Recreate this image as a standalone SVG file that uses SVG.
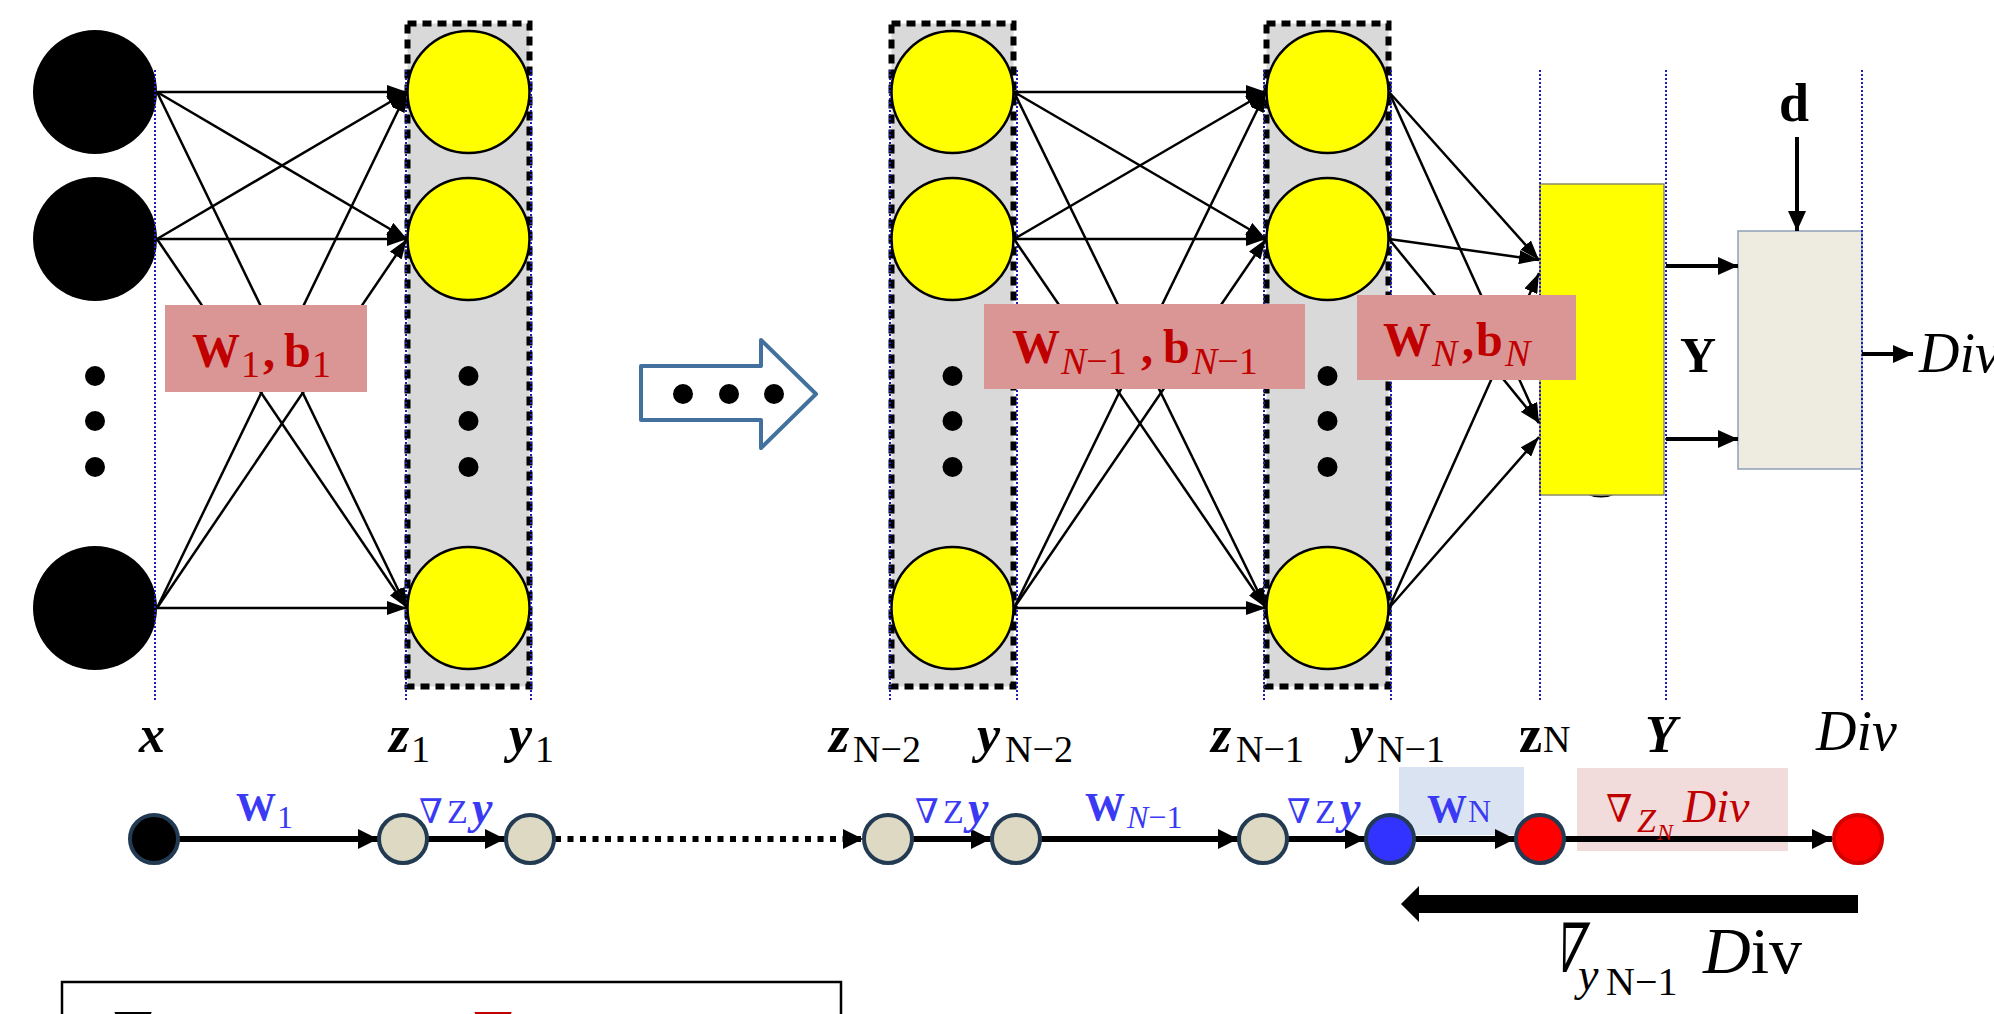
<svg xmlns="http://www.w3.org/2000/svg" width="1994" height="1014" viewBox="0 0 1994 1014">
<defs>
<style>
.gbox{fill:#D9D9D9;stroke:#000;stroke-width:6;stroke-dasharray:9 6}
.yc{fill:#FFFF00;stroke:#000;stroke-width:2.5}
.bc{fill:#000}
.dot{fill:#000}
.guide{stroke:#1C1CB8;stroke-width:2;stroke-dasharray:2 2;fill:none}
.ln{stroke:#000;stroke-width:2.5;fill:none;marker-end:url(#ah)}
.ln2{stroke:#000;stroke-width:4;fill:none;marker-end:url(#ahm)}
.ch{stroke:#000;stroke-width:6;fill:none;marker-end:url(#ahc)}
.lbox{fill:#D99694}
.lt{font-family:"Liberation Serif",serif;font-weight:bold;font-size:48px;fill:#C00000}
.ls{font-weight:normal;font-size:38px}
.it{font-style:italic}
.bl{font-family:"Liberation Serif","DejaVu Serif",serif;font-weight:bold;font-style:italic;font-size:52px;fill:#000}
.bs{font-weight:normal;font-style:normal;font-size:38px}
.cl{font-family:"Liberation Serif","DejaVu Serif",serif;font-size:40px;fill:#3A3AF4}
.cn{stroke:#223A52;stroke-width:4}
</style>
<marker id="ah" markerUnits="userSpaceOnUse" markerWidth="20" markerHeight="14" refX="20" refY="7" orient="auto"><path d="M0,0 L20,7 L0,14 z" fill="#000"/></marker>
<marker id="ahm" markerUnits="userSpaceOnUse" markerWidth="20" markerHeight="18" refX="20" refY="9" orient="auto"><path d="M0,0 L20,9 L0,18 z" fill="#000"/></marker>
<marker id="ahc" markerUnits="userSpaceOnUse" markerWidth="20" markerHeight="20" refX="20" refY="10" orient="auto"><path d="M0,0 L20,10 L0,20 z" fill="#000"/></marker>
</defs>
<rect width="1994" height="1014" fill="#fff"/>

<g id="layer-input">
<circle class="bc" cx="95" cy="92" r="62"/>
<circle class="bc" cx="95" cy="239" r="62"/>
<circle class="bc" cx="95" cy="608" r="62"/>
<circle class="dot" cx="95" cy="376" r="10"/>
<circle class="dot" cx="95" cy="421" r="10"/>
<circle class="dot" cx="95" cy="467" r="10"/>
</g>

<g id="layer-1">
<rect class="gbox" x="407.5" y="23.5" width="122" height="663"/>
<circle class="yc" cx="468.5" cy="92" r="61"/>
<circle class="yc" cx="468.5" cy="239" r="61"/>
<circle class="yc" cx="468.5" cy="608" r="61"/>
<circle class="dot" cx="468.5" cy="376" r="10"/>
<circle class="dot" cx="468.5" cy="421" r="10"/>
<circle class="dot" cx="468.5" cy="467" r="10"/>
</g>

<g id="ellipsis-arrow">
<polygon points="641,366 761,366 761,340 816,394 761,448 761,420 641,420" fill="#fff" stroke="#41719C" stroke-width="4" stroke-linejoin="round"/>
<circle cx="683" cy="394" r="10"/>
<circle cx="729" cy="394" r="10"/>
<circle cx="774" cy="394" r="10"/>
</g>

<g id="layer-n2">
<rect class="gbox" x="891.5" y="23.5" width="122" height="663"/>
<circle class="yc" cx="952.5" cy="92" r="61"/>
<circle class="yc" cx="952.5" cy="239" r="61"/>
<circle class="yc" cx="952.5" cy="608" r="61"/>
<circle class="dot" cx="952.5" cy="376" r="10"/>
<circle class="dot" cx="952.5" cy="421" r="10"/>
<circle class="dot" cx="952.5" cy="467" r="10"/>
</g>

<g id="layer-n1">
<rect class="gbox" x="1266.5" y="23.5" width="122" height="663"/>
<circle class="yc" cx="1327.5" cy="92" r="61"/>
<circle class="yc" cx="1327.5" cy="239" r="61"/>
<circle class="yc" cx="1327.5" cy="608" r="61"/>
<circle class="dot" cx="1327.5" cy="376" r="10"/>
<circle class="dot" cx="1327.5" cy="421" r="10"/>
<circle class="dot" cx="1327.5" cy="467" r="10"/>
</g>

<g id="output-layer">
<path d="M1586,493 Q1601,500 1616,493" fill="none" stroke="#000" stroke-width="2"/>
<rect x="1540" y="184" width="124" height="311" fill="#FFFF00" stroke="#8C8C6A" stroke-width="1.5"/>
</g>

<g id="div-box">
<rect x="1738" y="231" width="124" height="238" fill="#EEECE1" stroke="#8EA0B8" stroke-width="1.5"/>
</g>

<g id="guides">
<line class="guide" x1="155" y1="70" x2="155" y2="702"/>
<line class="guide" x1="406" y1="70" x2="406" y2="702"/>
<line class="guide" x1="531" y1="70" x2="531" y2="702"/>
<line class="guide" x1="890" y1="70" x2="890" y2="702"/>
<line class="guide" x1="1017" y1="70" x2="1017" y2="702"/>
<line class="guide" x1="1264" y1="70" x2="1264" y2="702"/>
<line class="guide" x1="1391" y1="70" x2="1391" y2="702"/>
<line class="guide" x1="1540" y1="70" x2="1540" y2="702"/>
<line class="guide" x1="1666" y1="70" x2="1666" y2="702"/>
<line class="guide" x1="1862" y1="70" x2="1862" y2="702"/>
</g>

<g id="connectors">
<line class="ln" x1="157" y1="92" x2="407" y2="92"/>
<line class="ln" x1="157" y1="92" x2="407" y2="239"/>
<line class="ln" x1="157" y1="92" x2="407" y2="608"/>
<line class="ln" x1="157" y1="239" x2="407" y2="92"/>
<line class="ln" x1="157" y1="239" x2="407" y2="239"/>
<line class="ln" x1="157" y1="239" x2="407" y2="608"/>
<line class="ln" x1="157" y1="608" x2="407" y2="92"/>
<line class="ln" x1="157" y1="608" x2="407" y2="239"/>
<line class="ln" x1="157" y1="608" x2="407" y2="608"/>

<line class="ln" x1="1014" y1="92" x2="1266" y2="92"/>
<line class="ln" x1="1014" y1="92" x2="1266" y2="239"/>
<line class="ln" x1="1014" y1="92" x2="1266" y2="608"/>
<line class="ln" x1="1014" y1="239" x2="1266" y2="92"/>
<line class="ln" x1="1014" y1="239" x2="1266" y2="239"/>
<line class="ln" x1="1014" y1="239" x2="1266" y2="608"/>
<line class="ln" x1="1014" y1="608" x2="1266" y2="92"/>
<line class="ln" x1="1014" y1="608" x2="1266" y2="239"/>
<line class="ln" x1="1014" y1="608" x2="1266" y2="608"/>

<line class="ln" x1="1389" y1="92" x2="1539" y2="260"/>
<line class="ln" x1="1389" y1="239" x2="1539" y2="260"/>
<line class="ln" x1="1389" y1="608" x2="1539" y2="273"/>
<line class="ln" x1="1389" y1="92" x2="1539" y2="423"/>
<line class="ln" x1="1389" y1="239" x2="1539" y2="423"/>
<line class="ln" x1="1389" y1="608" x2="1539" y2="437"/>

<line class="ln2" x1="1666" y1="266" x2="1738" y2="266"/>
<line class="ln2" x1="1666" y1="439" x2="1738" y2="439"/>
<line class="ln2" x1="1797" y1="137" x2="1797" y2="231"/>
<line class="ln2" x1="1862" y1="354" x2="1913" y2="354"/>
</g>

<g id="weight-labels">
<rect class="lbox" x="165" y="305" width="202" height="87"/>
<text class="lt"><tspan x="192" y="367">W</tspan><tspan class="ls" x="241" y="377">1</tspan><tspan x="263" y="367">,</tspan><tspan x="284" y="367">b</tspan><tspan class="ls" x="312" y="377">1</tspan></text>
<rect class="lbox" x="984" y="304" width="321" height="85"/>
<text class="lt"><tspan x="1012" y="363">W</tspan><tspan class="ls it" x="1061" y="374">N</tspan><tspan class="ls" y="374">−1</tspan><tspan x="1141" y="363">,</tspan><tspan x="1163" y="363">b</tspan><tspan class="ls it" x="1192" y="374">N</tspan><tspan class="ls" y="374">−1</tspan></text>
<rect class="lbox" x="1357" y="295" width="219" height="85"/>
<text class="lt"><tspan x="1383" y="356">W</tspan><tspan class="ls it" x="1432" y="366">N</tspan><tspan x="1462" y="356">,</tspan><tspan x="1476" y="356">b</tspan><tspan class="ls it" x="1505" y="366">N</tspan></text>
<text x="1779" y="121" font-family="Liberation Serif,serif" font-weight="bold" font-size="54" fill="#000">d</text>
<text x="1680" y="372" font-family="Liberation Serif,serif" font-weight="bold" font-size="50" fill="#000">Y</text>
<text x="1919" y="372" font-family="Liberation Serif,serif" font-style="italic" font-size="56" fill="#000">Div</text>
</g>

<g id="var-labels">
<text class="bl" x="139" y="752">x</text>
<text class="bl"><tspan x="389" y="752">z</tspan><tspan class="bs" x="411" y="762">1</tspan></text>
<text class="bl"><tspan x="509" y="752">y</tspan><tspan class="bs" x="535" y="762">1</tspan></text>
<text class="bl"><tspan x="829" y="752">z</tspan><tspan class="bs" font-style="italic" x="853" y="762">N</tspan><tspan class="bs" y="762">−2</tspan></text>
<text class="bl"><tspan x="977" y="752">y</tspan><tspan class="bs" font-style="italic" x="1005" y="762">N</tspan><tspan class="bs" y="762">−2</tspan></text>
<text class="bl"><tspan x="1211" y="752">z</tspan><tspan class="bs" font-style="italic" x="1236" y="762">N</tspan><tspan class="bs" y="762">−1</tspan></text>
<text class="bl"><tspan x="1350" y="752">y</tspan><tspan class="bs" font-style="italic" x="1377" y="762">N</tspan><tspan class="bs" y="762">−1</tspan></text>
<text class="bl"><tspan font-style="normal" x="1519" y="752">z</tspan><tspan class="bs" x="1543" y="752">N</tspan></text>
<text class="bl" x="1645" y="752">Y</text>
<text x="1816" y="750" font-family="Liberation Serif,serif" font-style="italic" font-size="56" fill="#000">Div</text>
</g>

<g id="chain-boxes">
<rect x="1399" y="767" width="125" height="68" fill="#DAE3F2"/>
<rect x="1577" y="768" width="211" height="83" fill="#F2DCDB"/>
</g>

<g id="chain-connectors">
<line class="ch" x1="179" y1="839" x2="378" y2="839"/>
<line class="ch" x1="428" y1="839" x2="505" y2="839"/>
<line class="ch" x1="555" y1="839" x2="863" y2="839" stroke-dasharray="6 6.5"/>
<line class="ch" x1="913" y1="839" x2="991" y2="839"/>
<line class="ch" x1="1041" y1="839" x2="1238" y2="839"/>
<line class="ch" x1="1288" y1="839" x2="1365" y2="839"/>
<line class="ch" x1="1415" y1="839" x2="1515" y2="839"/>
<line class="ch" x1="1565" y1="839" x2="1832" y2="839"/>
<polygon points="1401,904 1419,886 1419,895 1858,895 1858,913 1419,913 1419,922" fill="#000"/>
</g>

<g id="chain-nodes">
<circle class="cn" cx="154" cy="839" r="24" fill="#000"/>
<circle class="cn" cx="403" cy="839" r="24" fill="#DDD9C3"/>
<circle class="cn" cx="530" cy="839" r="24" fill="#DDD9C3"/>
<circle class="cn" cx="888" cy="839" r="24" fill="#DDD9C3"/>
<circle class="cn" cx="1016" cy="839" r="24" fill="#DDD9C3"/>
<circle class="cn" cx="1263" cy="839" r="24" fill="#DDD9C3"/>
<circle class="cn" cx="1390" cy="839" r="24" fill="#3333FF"/>
<circle class="cn" cx="1540" cy="839" r="24" fill="#FF0000"/>
<circle cx="1858" cy="839" r="24" fill="#FF0000" stroke="#D40000" stroke-width="4"/>
</g>

<g id="chain-labels">
<text class="cl"><tspan font-weight="bold" x="236" y="820">W</tspan><tspan font-size="32" x="277" y="828">1</tspan></text>
<text class="cl"><tspan font-size="34" x="419" y="823">∇</tspan><tspan font-size="34" x="447" y="823">Z</tspan><tspan font-weight="bold" font-style="italic" font-size="46" x="472" y="823">y</tspan></text>
<text class="cl"><tspan font-size="34" x="915" y="823">∇</tspan><tspan font-size="34" x="943" y="823">Z</tspan><tspan font-weight="bold" font-style="italic" font-size="46" x="968" y="823">y</tspan></text>
<text class="cl"><tspan font-weight="bold" x="1085" y="820">W</tspan><tspan font-size="32" font-style="italic" x="1127" y="828">N</tspan><tspan font-size="32" y="828">−1</tspan></text>
<text class="cl"><tspan font-size="34" x="1287" y="823">∇</tspan><tspan font-size="34" x="1315" y="823">Z</tspan><tspan font-weight="bold" font-style="italic" font-size="46" x="1340" y="823">y</tspan></text>
<text class="cl"><tspan font-weight="bold" x="1427" y="822">W</tspan><tspan font-size="32" x="1468" y="822">N</tspan></text>
<text class="cl" style="fill:#C00000"><tspan x="1606" y="822" font-size="38">∇</tspan><tspan font-style="italic" font-size="34" x="1637" y="832">Z</tspan><tspan font-style="italic" font-size="24" x="1657" y="840">N</tspan><tspan font-style="italic" font-size="46" x="1683" y="822">Div</tspan></text>
<text transform="translate(1550,972) skewX(-14) scale(0.62,1)" font-family="Liberation Serif,DejaVu Serif,serif" font-size="68" fill="#000">∇</text>
<text font-family="Liberation Serif,DejaVu Serif,serif" fill="#000"><tspan font-style="italic" font-size="46" x="1578" y="990">y</tspan><tspan font-size="40" x="1606" y="995">N−1</tspan><tspan font-style="italic" font-size="66" x="1703" y="973">D</tspan><tspan font-size="66">iv</tspan></text>
</g>

<g id="legend">
<rect x="62" y="982" width="779" height="60" fill="#fff" stroke="#000" stroke-width="2.5"/>
<text font-family="Liberation Serif,DejaVu Serif,serif" font-size="58"><tspan x="113" y="1054" fill="#000">∇</tspan><tspan x="152" y="1070" font-size="40" font-style="italic" fill="#000">y</tspan><tspan font-size="30" y="1076" fill="#000">N−1</tspan><tspan x="275" y="1053" font-style="italic" fill="#000">D</tspan><tspan y="1057" font-style="italic" fill="#000">iv</tspan><tspan x="385" y="1057" fill="#000">=</tspan><tspan x="473" y="1054" fill="#C00000">∇</tspan><tspan x="510" y="1070" font-size="40" font-style="italic" fill="#C00000">z</tspan><tspan font-size="30" y="1076" fill="#C00000">N</tspan><tspan x="572" y="1053" font-style="italic" fill="#C00000">D</tspan><tspan y="1057" font-style="italic" fill="#C00000">iv</tspan><tspan x="690" y="1053" font-weight="bold" fill="#5050F0">W</tspan><tspan font-size="40" y="1070" fill="#5050F0">N</tspan></text>
</g>
</svg>
